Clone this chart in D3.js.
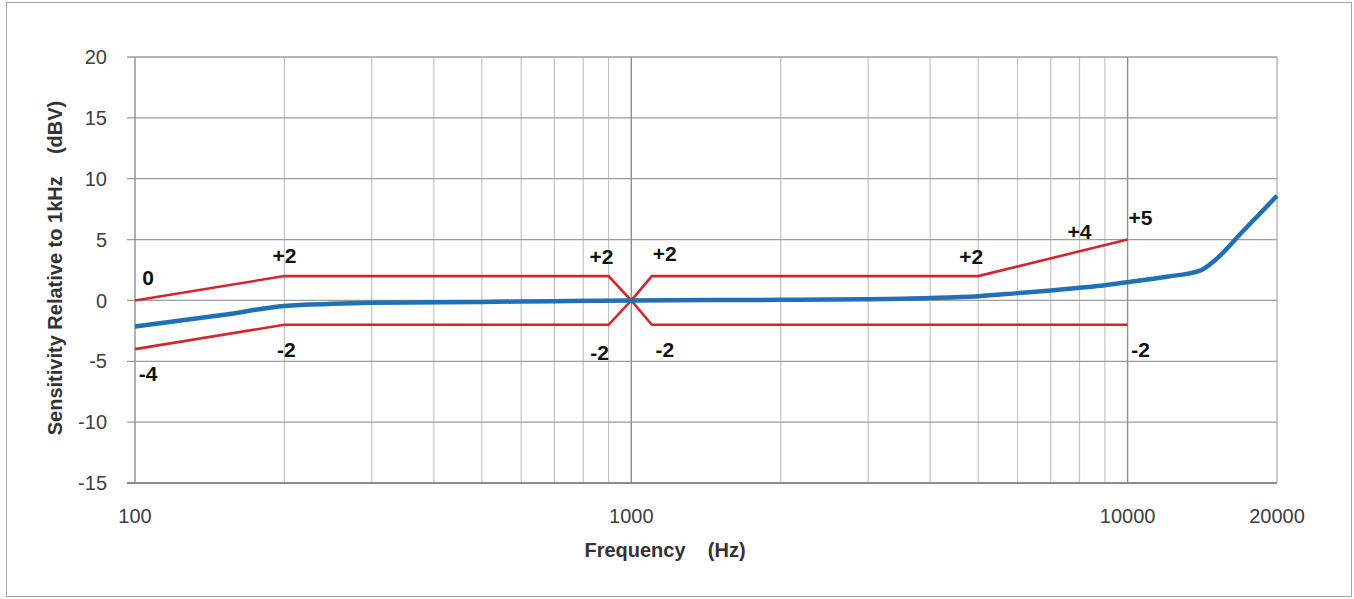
<!DOCTYPE html>
<html>
<head>
<meta charset="utf-8">
<script src="https://cdn.jsdelivr.net/npm/d3@7"></script>
<style>
  body { margin: 0; background: #fff; }
  text { font-family: "Liberation Sans", Arial, sans-serif; }
</style>
</head>
<body>
<div id="chart"></div>
<script>
var width = 1354;
var height = 599;

// measured response (blue)
var respFreq = [100, 150, 200, 250, 300, 500, 700, 1000, 2000, 3000, 4000, 5000, 6000, 7000, 8000, 9000, 10000, 12000, 14000, 15000, 17000, 20000];
var respDb   = [-2.15, -1.2, -0.45, -0.28, -0.2, -0.12, -0.06, 0, 0.05, 0.1, 0.2, 0.35, 0.6, 0.82, 1.04, 1.25, 1.5, 1.95, 2.45, 3.3, 5.6, 8.6];

// tolerance limits (red)
var upperFreq = [100, 200, 900, 1000, 1100, 5000, 10000];
var upperDb   = [0, 2, 2, 0, 2, 2, 5];
var lowerFreq = [100, 200, 900, 1000, 1100, 10000];
var lowerDb   = [-4, -2, -2, 0, -2, -2];

// limit annotations
var noteFreq = [100, 100, 200, 200, 900, 1100, 900, 1100, 5000, 8000, 10000, 10000];
var noteDb   = [0, -4, 2, -2, 2, 2, -2, -2, 2, 4, 5, -2];
var noteText = ["0", "-4", "+2", "-2", "+2", "+2", "-2", "-2", "+2", "+4", "+5", "-2"];
var notePos  = ["ne", "se", "n", "s", "nw", "ne", "sw", "se", "nw", "n", "ne", "se"];

var yTicks = [20, 15, 10, 5, 0, -5, -10, -15];
var xLabels = [100, 1000, 10000, 20000];
var xMinor = [200, 300, 400, 500, 600, 700, 800, 900, 2000, 3000, 4000, 5000, 6000, 7000, 8000, 9000];
var xMajor = [100, 1000, 10000, 20000];

var svg = d3.select("#chart")
            .append("svg")
            .attr("width", width)
            .attr("height", height);

// outer chart frame
svg.append("rect")
   .attr("x", 6.5).attr("y", 2.5)
   .attr("width", 1345).attr("height", 594)
   .attr("fill", "#fff")
   .attr("stroke", "#a6a6a6");

var x = d3.scaleLog().domain([100, 20000]).range([135, 1277]);
var y = d3.scaleLinear().domain([-15, 20]).range([483, 57]);

var grid = svg.append("g");

grid.selectAll(".vminor")
    .data(xMinor)
    .enter().append("line")
    .attr("x1", function(d){ return x(d); })
    .attr("x2", function(d){ return x(d); })
    .attr("y1", y(20)).attr("y2", y(-15))
    .attr("stroke", "#c4c4c4")
    .attr("stroke-width", 1.2);

grid.selectAll(".hline")
    .data(yTicks)
    .enter().append("line")
    .attr("x1", 127).attr("x2", x(20000))
    .attr("y1", function(d){ return y(d); })
    .attr("y2", function(d){ return y(d); })
    .attr("stroke", function(d){ return d == -15 ? "#8c8c8c" : "#9c9c9c"; })
    .attr("stroke-width", function(d){ return d == -15 ? 1.8 : 1.3; });

grid.selectAll(".vmajor")
    .data(xMajor)
    .enter().append("line")
    .attr("x1", function(d){ return x(d); })
    .attr("x2", function(d){ return x(d); })
    .attr("y1", y(20)).attr("y2", y(-15))
    .attr("stroke", function(d){ return d == 20000 ? "#b4b4b4" : "#8f8f8f"; })
    .attr("stroke-width", 1.4);

// tick labels
svg.selectAll(".ylab")
   .data(yTicks)
   .enter().append("text")
   .attr("x", 107)
   .attr("y", function(d){ return y(d); })
   .attr("dy", "0.36em")
   .attr("text-anchor", "end")
   .attr("font-size", 20)
   .attr("fill", "#404040")
   .text(function(d){ return d; });

svg.selectAll(".xlab")
   .data(xLabels)
   .enter().append("text")
   .attr("x", function(d){ return x(d); })
   .attr("y", 523)
   .attr("text-anchor", "middle")
   .attr("font-size", 20)
   .attr("fill", "#404040")
   .text(function(d){ return d; });

// axis titles
svg.append("text")
   .attr("x", 665).attr("y", 557)
   .attr("text-anchor", "middle")
   .attr("font-size", 20)
   .attr("font-weight", "bold")
   .attr("fill", "#333")
   .style("white-space", "pre")
   .text("Frequency    (Hz)");

svg.append("text")
   .attr("transform", "translate(62,268) rotate(-90)")
   .attr("text-anchor", "middle")
   .attr("font-size", 20)
   .attr("font-weight", "bold")
   .attr("fill", "#333")
   .style("white-space", "pre")
   .text("Sensitivity Relative to 1kHz    (dBV)");

// limit lines
var lineLin = d3.line()
    .x(function(d){ return x(d[0]); })
    .y(function(d){ return y(d[1]); });

svg.append("path")
   .datum(d3.zip(upperFreq, upperDb))
   .attr("d", lineLin)
   .attr("fill", "none")
   .attr("stroke", "#d3262c")
   .attr("stroke-width", 2.6);

svg.append("path")
   .datum(d3.zip(lowerFreq, lowerDb))
   .attr("d", lineLin)
   .attr("fill", "none")
   .attr("stroke", "#d3262c")
   .attr("stroke-width", 2.6);

// response curve
var lineSmooth = d3.line()
    .x(function(d){ return x(d[0]); })
    .y(function(d){ return y(d[1]); })
    .curve(d3.curveMonotoneX);

svg.append("path")
   .datum(d3.zip(respFreq, respDb))
   .attr("d", lineSmooth)
   .attr("fill", "none")
   .attr("stroke", "#2170b5")
   .attr("stroke-width", 4.5)
   .attr("stroke-linejoin", "round");

// annotations
var offs = {
  n:  [0, -13],  s:  [2, 32],
  ne: [13, -15], nw: [-7, -12],
  se: [13, 32],  sw: [-9, 35]
};

svg.selectAll(".note")
   .data(d3.range(noteText.length))
   .enter().append("text")
   .attr("x", function(i){ return x(noteFreq[i]) + offs[notePos[i]][0]; })
   .attr("y", function(i){ return y(noteDb[i]) + offs[notePos[i]][1]; })
   .attr("text-anchor", "middle")
   .attr("font-size", 21)
   .attr("font-weight", "bold")
   .attr("fill", "#111")
   .text(function(i){ return noteText[i]; });
</script>
</body>
</html>
